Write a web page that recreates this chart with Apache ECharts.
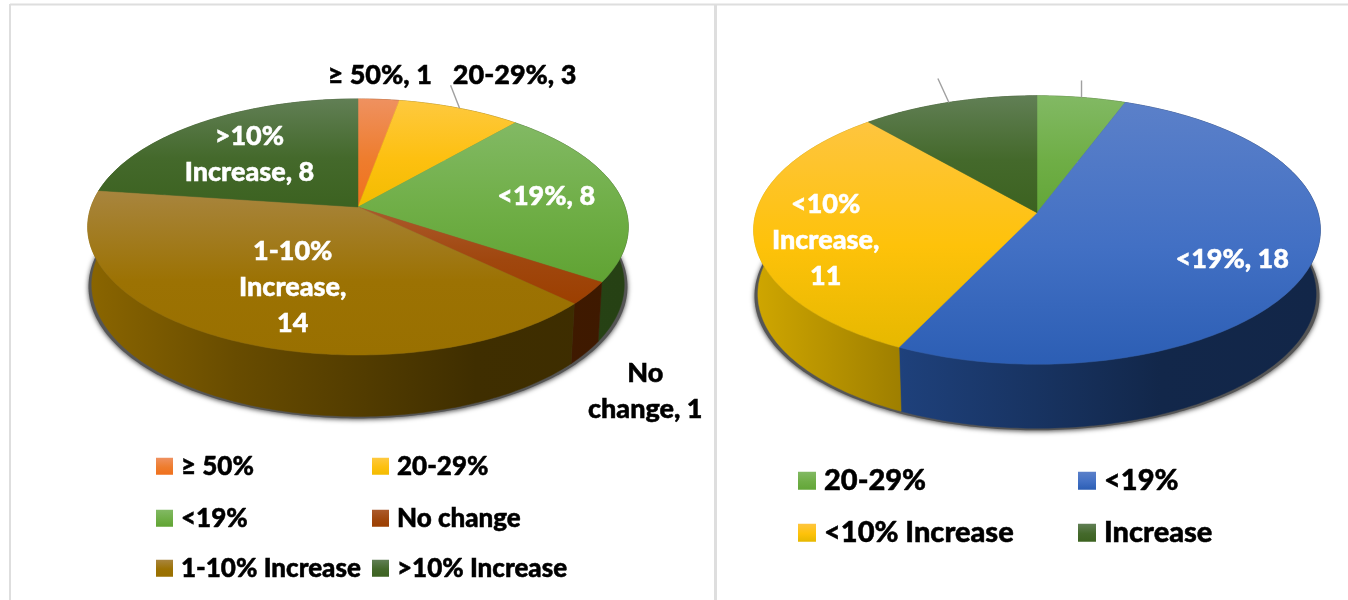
<!DOCTYPE html>
<html><head><meta charset="utf-8">
<style>html,body{margin:0;padding:0;background:#fff}#c{width:1348px;height:600px}</style>
<script src="https://cdn.jsdelivr.net/npm/echarts@6/dist/echarts.min.js"></script>
</head><body><div id="c"></div>
<script>
// ---- data ----
var leftCategories = ['≥ 50%', '20-29%', '<19%', 'No change', '1-10% Increase', '>10% Increase'];
var leftValues = [1, 3, 8, 1, 14, 8];
var leftLabels = ['≥ 50%, 1', '20-29%, 3', '<19%, 8', 'No\nchange, 1', '1-10%\nIncrease,\n14', '>10%\nIncrease, 8'];
var rightCategories = ['20-29%', '<19%', '<10% Increase', 'Increase'];
var rightValues = [2, 18, 11, 4];
var rightLabels = ['', '<19%, 18', '<10%\nIncrease,\n11', ''];

// ---- styles ----
// [light top, base, bottom]
var leftColors = [
  ['#ef9160', '#ee7d2e', '#f0701c'],
  ['#fec93f', '#fdc010', '#f2bc00'],
  ['#82b964', '#6fae46', '#60a333'],
  ['#ab5a2c', '#a0470e', '#9c3f00'],
  ['#a8853e', '#9c7203', '#997000'],
  ['#617f55', '#44692b', '#3c6220']
];
var rightColors = [
  ['#82b964', '#6fae46', '#63a638'],
  ['#5b80c9', '#4270c4', '#2c5eb4'],
  ['#fec53f', '#fec20a', '#e6b800'],
  ['#617f55', '#44692b', '#3c6220']
];
var leftLabelStyle = [
  {dx: 1, dy: -24, fill: '#000'}, {dx: 55, dy: -33, fill: '#000'}, {dx: -71, dy: 6, fill: '#fff'},
  {dx: 56, dy: 98, fill: '#000'}, {dx: 69.5, dy: -51, fill: '#fff'}, {dx: 48.6, dy: 31, fill: '#fff'}
];
var rightLabelStyle = [
  {}, {dx: -77, dy: -8, fill: '#fff'}, {dx: 72, dy: 10, fill: '#fff'}, {}
];
var leftLeaders = [null, [-9, -23], null, null, null, null];
var rightLeaders = [[0, -17], null, null, [-11, -24]];
var leftGeo = {cx: 358, cy: 207, rx: 267, k: 124.9, p: 0.156, fx: 0.985, fy: 1.03, depth: 57};
var rightGeo = {cx: 1037, cy: 212.7, rx: 281, k: 132, p: 0.129, fx: 0.985, fy: 1, depth: 64};
var FONT = '"Lato","Open Sans",sans-serif';

function shade(hex, f) {
  var n = parseInt(hex.slice(1), 16);
  return 'rgb(' + Math.round((n >> 16) * f) + ',' + Math.round(((n >> 8) & 255) * f) + ',' + Math.round((n & 255) * f) + ')';
}
function rimPoint(g, a, r) {
  var u = Math.sin(a) * r, v = -Math.cos(a) * r, s = 1 / (1 - g.p * v);
  return [g.cx + g.rx * u * s, g.cy + g.k * v * s];
}
function lowerPoint(g, p) {
  return [g.cx + (p[0] - g.cx) * g.fx, g.cy + g.depth + (p[1] - g.cy) * g.fy];
}
function shadowPoint(g, p) {
  return [g.cx + (p[0] - g.cx) * (g.fx + 0.012), g.cy + g.depth + 2 + (p[1] - g.cy) * g.fy];
}
function arc(g, a0, a1) {
  var n = Math.max(2, Math.ceil((a1 - a0) / (Math.PI / 180))), pts = [];
  for (var i = 0; i <= n; i++) pts.push(rimPoint(g, a0 + (a1 - a0) * i / n, 1));
  return pts;
}
function vGrad(c) {
  return new echarts.graphic.LinearGradient(0, 0, 0, 1, [
    {offset: 0, color: c[0]}, {offset: 0.55, color: c[1]}, {offset: 1, color: c[2]}
  ]);
}
function wallGrad(g, c) {
  var l = g.cx - g.rx, r = g.cx + g.rx;
  return new echarts.graphic.LinearGradient(l, 0, r, 0, [
    {offset: 0, color: shade(c, 0.9)}, {offset: 0.27, color: shade(c, 0.68)},
    {offset: 0.72, color: shade(c, 0.41)}, {offset: 1, color: shade(c, 0.4)}
  ], true);
}

function buildSeries(cats, vals, labels, colors, lblStyle, leaders, g) {
  var total = vals.reduce(function (a, b) { return a + b; }, 0), acc = 0;
  return cats.map(function (name, i) {
    var before = acc; acc += vals[i];
    return {
      type: 'custom', name: name, coordinateSystem: 'none', silent: true,
      data: [[vals[i], before, total]],
      renderItem: function (params, api) {
        var a0 = api.value(1) / api.value(2) * 2 * Math.PI;
        var a1 = (api.value(1) + api.value(0)) / api.value(2) * 2 * Math.PI;
        var mid = (a0 + a1) / 2, rim = arc(g, a0, a1), c = colors[i];
        var top = [[g.cx, g.cy]].concat(rim), fill = vGrad(c);
        var lower = rim.map(function (p) { return lowerPoint(g, p); }).reverse();
        var kids = [];
        if (i === 0) {
          kids.push({type: 'polygon', z2: 0,
            shape: {points: arc(g, 0, 2 * Math.PI).map(function (p) { return shadowPoint(g, p); })},
            style: {fill: '#555', shadowBlur: 5, shadowColor: 'rgba(0,0,0,0.7)', shadowOffsetY: 1}});
        }
        var wf = wallGrad(g, c[2]);
        kids.push({type: 'polygon', z2: 1, shape: {points: rim.concat(lower)}, style: {fill: wf, stroke: wf, lineWidth: 0.5}});
        kids.push({type: 'polygon', z2: 2, shape: {points: top}, style: {fill: fill, stroke: fill, lineWidth: 0.5}});
        var anchor = rimPoint(g, mid, 1);
        if (leaders[i]) {
          kids.push({type: 'line', z2: 3,
            shape: {x1: anchor[0], y1: anchor[1], x2: anchor[0] + leaders[i][0], y2: anchor[1] + leaders[i][1]},
            style: {stroke: '#a0a0a0', lineWidth: 1.4}});
        }
        if (labels[i]) {
          kids.push({type: 'text', z2: 4, style: {
            text: labels[i], x: anchor[0] + lblStyle[i].dx, y: anchor[1] + lblStyle[i].dy,
            fill: lblStyle[i].fill, stroke: lblStyle[i].fill, lineWidth: 0.5,
            font: '900 27px ' + FONT, align: 'center', verticalAlign: 'middle', lineHeight: 36
          }});
        }
        return {type: 'group', children: kids};
      }
    };
  });
}

var leftLegendCols = [156, 372], leftLegendRows = [465, 517, 567];
var rightLegendCols = [798, 1078], rightLegendRows = [480, 532];
function buildLegends(cats, colors, cols, rows, size, font, shift, pad) {
  return cats.map(function (name, i) {
    return {
      show: true, orient: 'horizontal', selectedMode: false, padding: 0, icon: 'rect',
      itemWidth: size, itemHeight: size,
      left: cols[i % 2], top: rows[Math.floor(i / 2)] - shift,
      height: 32,
      data: [{name: name, itemStyle: {color: vGrad(colors[i]), borderWidth: 0}}],
      textStyle: {fontFamily: FONT, fontWeight: 900, fontSize: font, color: '#000',
        textBorderColor: '#000', textBorderWidth: 0.5, padding: [0, 0, 0, pad]}
    };
  });
}

var chart = echarts.init(document.getElementById('c'), null, {renderer: 'canvas'});
chart.setOption({
  animation: false,
  backgroundColor: '#fff',
  graphic: [
    {type: 'line', shape: {x1: 10, y1: 4.5, x2: 1348, y2: 4.5}, style: {stroke: '#dedede', lineWidth: 2}},
    {type: 'line', shape: {x1: 10, y1: 4, x2: 10, y2: 600}, style: {stroke: '#dedede', lineWidth: 2}},
    {type: 'line', shape: {x1: 715.5, y1: 4, x2: 715.5, y2: 600}, style: {stroke: '#dedede', lineWidth: 3}}
  ],
  legend: buildLegends(leftCategories, leftColors, leftLegendCols, leftLegendRows, 17, 26, 12, 3)
    .concat(buildLegends(rightCategories, rightColors, rightLegendCols, rightLegendRows, 18, 29, 14, 3)),
  series: buildSeries(leftCategories, leftValues, leftLabels, leftColors, leftLabelStyle, leftLeaders, leftGeo)
    .concat(buildSeries(rightCategories, rightValues, rightLabels, rightColors, rightLabelStyle, rightLeaders, rightGeo))
});
</script></body></html>
